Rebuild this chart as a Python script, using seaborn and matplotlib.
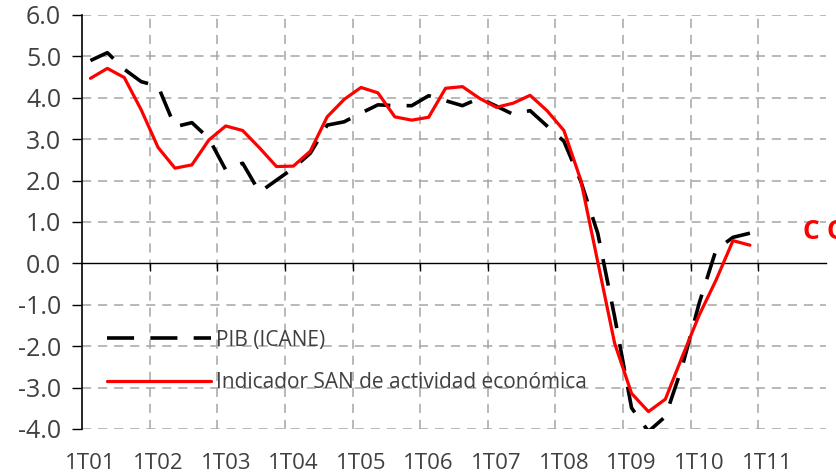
import numpy as np
import pandas as pd
import seaborn as sns
import matplotlib.pyplot as plt

# Datos trimestrales 1T01 - 4T10 (tasa interanual, %)
trimestres = [f"{q}T{a:02d}" for a in range(1, 11) for q in range(1, 5)]
pib_icane = [4.90, 5.09, 4.69, 4.39, 4.28, 3.30, 3.40, 3.02, 2.26, 2.42,
             1.72, 2.01, 2.30, 2.66, 3.34, 3.42, 3.63, 3.83, 3.81, 3.81,
             4.05, 3.93, 3.81, 3.99, 3.80, 3.60, 3.69, 3.32, 2.95, 1.98,
             0.73, -1.29, -3.49, -4.06, -3.70, -2.49, -0.96, 0.33, 0.63, 0.73]
indicador_san = [4.47, 4.71, 4.49, 3.71, 2.80, 2.30, 2.38, 2.98, 3.32, 3.21,
                 2.79, 2.34, 2.35, 2.71, 3.54, 3.96, 4.25, 4.12, 3.54, 3.46,
                 3.53, 4.23, 4.27, 3.99, 3.77, 3.87, 4.06, 3.69, 3.21, 2.01,
                 0.04, -1.93, -3.14, -3.58, -3.28, -2.25, -1.25, -0.40, 0.55, 0.44]
etiquetas_x = ["1T01", "1T02", "1T03", "1T04", "1T05", "1T06",
               "1T07", "1T08", "1T09", "1T10", "1T11"]
ticks_y = [6.0, 5.0, 4.0, 3.0, 2.0, 1.0, 0.0, -1.0, -2.0, -3.0, -4.0]

df = pd.DataFrame({
    "trimestre": trimestres,
    "pos": np.arange(len(trimestres)) + 0.5,   # categorias centradas (estilo Excel)
    "pib": pib_icane,
    "san": indicador_san,
})

sns.set_theme(style="white")
plt.rcParams["font.family"] = ["Open Sans", "DejaVu Sans"]
plt.rcParams["axes.unicode_minus"] = False
gris_texto = "#404040"

fig = plt.figure(figsize=(8.36, 4.72), dpi=100)
ax = fig.add_axes([82 / 836, 43 / 472, 744 / 836, 414 / 472])

# rejilla discontinua
for v in ticks_y:
    if v != 0:
        ax.axhline(v, color="#a6a6a6", lw=1.1, ls=(0, (6, 4.5)), zorder=0)
for k in range(1, 11):
    ax.axvline(4 * k, color="#a6a6a6", lw=1.1, ls=(0, (6, 4.5)), zorder=0)

sns.lineplot(data=df, x="pos", y="pib", ax=ax, color="black", lw=2.6,
             label="PIB (ICANE)", zorder=3)
ax.lines[-1].set_dashes([7.5, 4.5])
ax.lines[-1].set_dash_capstyle("butt")
sns.lineplot(data=df, x="pos", y="san", ax=ax, color="#ff0000", lw=2.3,
             label="Indicador SAN de actividad económica", zorder=4)

ax.set_xlim(0, 44)
ax.set_ylim(-4, 6)
ax.set_xlabel("")
ax.set_ylabel("")

ax.set_yticks(ticks_y)
ax.set_yticklabels([f"{v:.1f}" for v in ticks_y])
ax.set_xticks([4 * k + 0.5 for k in range(len(etiquetas_x))])
ax.set_xticklabels(etiquetas_x)
ax.tick_params(axis="y", direction="out", length=7, width=1, color="black",
               labelsize=18, labelcolor=gris_texto, pad=8, left=True)
ax.tick_params(axis="x", length=0, labelsize=16, labelcolor=gris_texto, pad=17)

for s in ["top", "right", "bottom"]:
    ax.spines[s].set_visible(False)
ax.spines["left"].set_color("black")
ax.spines["left"].set_linewidth(1.2)

# eje horizontal en cero con marcas anuales
sec = ax.secondary_xaxis(0, transform=ax.transData)
sec.set_xticks([4 * k for k in range(1, 11)])
sec.set_xticklabels([])
sec.tick_params(direction="out", length=6, width=1, color="black")
sec.spines["bottom"].set_color("black")
sec.spines["bottom"].set_linewidth(1)

leg = ax.legend(loc="center left", bbox_to_anchor=(0.0336, 0.163), frameon=False,
                borderpad=0, borderaxespad=0, fontsize=15, handlelength=5.0,
                handletextpad=0.25, labelspacing=1.05, labelcolor=gris_texto)

# textos recortados en los bordes de la figura
fig.text(21 / 836, 1 + 2.5 / 472, "(tasa interanual %)", fontsize=16,
         color=gris_texto, va="baseline", ha="left")
fig.text(803 / 836, 1 - 239 / 472, "C", fontsize=19, fontweight="bold",
         color="#ff0000", va="baseline", ha="left")
fig.text(826 / 836, 1 - 239 / 472, "O", fontsize=19, fontweight="bold",
         color="#ff0000", va="baseline", ha="left")

fig.savefig("out.png", dpi=100)
plt.close(fig)
